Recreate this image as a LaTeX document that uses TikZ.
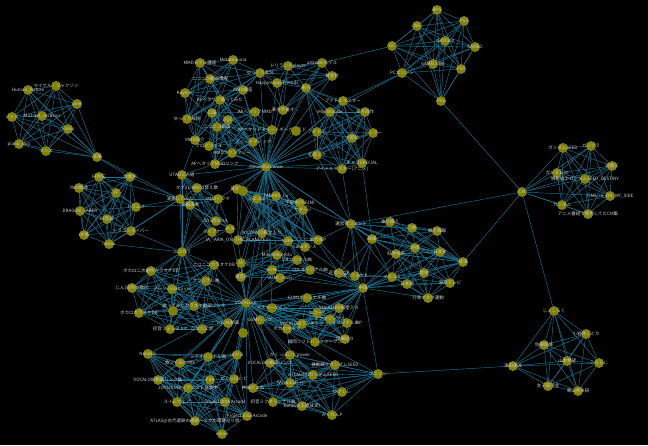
\documentclass[tikz,border=0pt]{standalone}
\usepackage{fontspec}
\newfontfamily\jpfont{Noto Sans CJK JP}
\usetikzlibrary{positioning}

\definecolor{dotcol}{RGB}{128,128,12}
\definecolor{linkcol}{RGB}{28,116,148}
\definecolor{txtcol}{RGB}{205,205,205}

\pgfdeclarelayer{bg}
\pgfdeclarelayer{links}
\pgfsetlayers{bg,links,main}

\tikzset{
  dot/.style={circle,fill=dotcol,minimum size=10pt,inner sep=0pt},
  txt/.style={text=txtcol,font=\jpfont\fontsize{4.5}{5}\selectfont,inner sep=0pt},
  link/.style={draw=linkcol,line width=0.45pt}
}

% every pair of a list
\newcommand{\linkall}[1]{%
  \foreach \a [count=\i] in {#1}{%
    \foreach \b [count=\j] in {#1}{%
      \ifnum\i<\j \draw[link] (\a) -- (\b);\fi}}}

\begin{document}
\begin{tikzpicture}[x=1pt,y=-1pt]

      \useasboundingbox (0,0) rectangle (648,445);
      \begin{pgfonlayer}{bg}
        \fill[black] (0,0) rectangle (648,445);
      \end{pgfonlayer}

      % Michael Jackson
      \node[dot,label={[txt]center:マイケル・ジャクソン}] (mj1) at (56,86) {};
      \node[dot,label={[txt]center:Human\_Nature}] (mj2) at (28,90) {};
      \node[dot,label={[txt]center:pine}] (mj3) at (77,104) {};
      \node[dot,label={[txt]center:ジャズ}] (mj4) at (12,117) {};
      \node[dot,label={[txt]center:Michael\_Jackson}] (mj5) at (42,116) {};
      \node[dot,label={[txt]center:Piano}] (mj6) at (68,129) {};
      \node[dot,label={[txt]center:piano\_duo}] (mj7) at (19,144) {};
      \node[dot,label={[txt]center:ダンス}] (mj8) at (46,151) {};
      \node[dot,label={[txt]center:洋楽}] (mj9) at (97,157) {};

      % Games
      \node[dot,label={[txt]center:RPG}] (gm1) at (437,10) {};
      \node[dot,label={[txt]center:Wii}] (gm2) at (417,26) {};
      \node[dot,label={[txt]center:PS3}] (gm3) at (464,21) {};
      \node[dot,label={[txt]center:XBOX360}] (gm4) at (445,41) {};
      \node[dot,label={[txt]center:GC}] (gm5) at (392,46) {};
      \node[dot,label={[txt]center:GAMEO}] (gm6) at (475,47) {};
      \node[dot,label={[txt]center:GAMECUBE}] (gm7) at (433,64) {};
      \node[dot,label={[txt]center:PSP}] (gm8) at (461,69) {};
      \node[dot,label={[txt]center:PCエンジン}] (gm9) at (402,73) {};
      \node[dot,label={[txt]center:PS2}] (gm10) at (441,101) {};

      % CM
      \node[dot,label={[txt]center:CM}] (cm1) at (522,192) {};
      \node[dot,label={[txt]center:ガンダムSEED}] (cm2) at (563,148) {};
      \node[dot,label={[txt]center:ガンプラ}] (cm3) at (591,146) {};
      \node[dot,label={[txt]center:遊戯王}] (cm4) at (612,166) {};
      \node[dot,label={[txt]center:ガンダム00}] (cm5) at (557,173) {};
      \node[dot,label={[txt]center:機動戦士ガンダムSEED\_DESTINY}] (cm6) at (585,179) {};
      \node[dot,label={[txt]center:TIME\_IS\_ON\_MY\_SIDE}] (cm7) at (610,196) {};
      \node[dot,label={[txt]center:ガンダム}] (cm8) at (562,205) {};
      \node[dot,label={[txt]center:アニメ番組で使用してたCM集}] (cm9) at (588,214) {};

      % Jessiraku
      \node[dot,label={[txt]center:じぇしらく}] (js1) at (554,311) {};
      \node[dot,label={[txt]center:小岩井ことり}] (js2) at (586,334) {};
      \node[dot,label={[txt]center:佐藤聡美}] (js3) at (544,345) {};
      \node[dot,label={[txt]center:山本希望}] (js4) at (567,361) {};
      \node[dot,label={[txt]center:こりらじ}] (js5) at (599,363) {};
      \node[dot,label={[txt]center:津田美波}] (js6) at (513,366) {};
      \node[dot,label={[txt]center:女子部活会}] (js7) at (548,386) {};
      \node[dot,label={[txt]center:東山奈央研}] (js8) at (578,391) {};

      % FF
      \node[dot,label={[txt]center:FF外伝}] (ff1) at (99,177) {};
      \node[dot,label={[txt]center:作業用}] (ff2) at (130,177) {};
      \node[dot,label={[txt]center:YMO関連}] (ff3) at (79,188) {};
      \node[dot,label={[txt]center:FF}] (ff4) at (116,193) {};
      \node[dot,label={[txt]center:ドラムス}] (ff5) at (136,207) {};
      \node[dot,label={[txt]center:DRAGON\_SABER}] (ff6) at (80,211) {};
      \node[dot,label={[txt]center:FF音楽}] (ff7) at (107,219) {};
      \node[dot,label={[txt]center:ドラゴンダイバー}] (ff8) at (131,231) {};
      \node[dot,label={[txt]center:OP集}] (ff9) at (84,235) {};
      \node[dot,label={[txt]center:nanao}] (ff10) at (109,244) {};

      % MMD
      \node[dot,label={[txt]center:MikuMikuDance}] (md0) at (266,167) {};
      \node[dot,label={[txt]center:MMDモデル講座}] (md1) at (200,63) {};
      \node[dot,label={[txt]center:Metasequoia}] (md2) at (233,60) {};
      \node[dot,label={[txt]center:ニコニコ動画講座}] (md3) at (210,79) {};
      \node[dot,label={[txt]center:ゆっくり実況}] (md4) at (260,73) {};
      \node[dot,label={[txt]center:HappyHappyFriends}] (md5) at (277,83) {};
      \node[dot,label={[txt]center:ドリランドplayer}] (md6) at (288,66) {};
      \node[dot,label={[txt]center:ustreamモデル}] (md7) at (322,63) {};
      \node[dot,label={[txt]center:黄金色}] (md8) at (332,76) {};
      \node[dot,label={[txt]center:MMD講座}] (md9) at (243,90) {};
      \node[dot,label={[txt]center:Kaymer}] (md10) at (185,93) {};
      \node[dot,label={[txt]center:東方}] (md11) at (306,88) {};
      \node[dot,label={[txt]center:APヘタリア踊ってみた}] (md12) at (220,100) {};
      \node[dot,label={[txt]center:APヘタリアMMD}] (md13) at (255,112) {};
      \node[dot,label={[txt]center:東方手書き}] (md14) at (283,110) {};
      \node[dot,label={[txt]center:アイドルマスター}] (md15) at (343,101) {};
      \node[dot,label={[txt]center:iM@Shooter}] (md16) at (330,112) {};
      \node[dot,label={[txt]center:東方自作}] (md17) at (365,112) {};
      \node[dot,label={[txt]center:ゆっくり解説}] (md18) at (187,119) {};
      \node[dot,label={[txt]center:口笛}] (md19) at (212,113) {};
      \node[dot,label={[txt]center:DQC}] (md20) at (228,120) {};
      \node[dot,label={[txt]center:ニコニコ動画}] (md21) at (217,127) {};
      \node[dot,label={[txt]center:APヘタリアスイートボーカロイド}] (md22) at (272,130) {};
      \node[dot] (md23) at (296,131) {};
      \node[dot,label={[txt]center:アイドル}] (md24) at (317,132) {};
      \node[dot,label={[txt]center:大阪勢}] (md25) at (352,138) {};
      \node[dot,label={[txt]center:ミックー}] (md26) at (373,133) {};
      \node[dot,label={[txt]center:MMD紹介}] (md27) at (195,140) {};
      \node[dot,label={[txt]center:クロイツェル}] (md28) at (209,146) {};
      \node[dot,label={[txt]center:スイートマジック}] (md29) at (253,142) {};
      \node[dot,label={[txt]center:MMDファンタジー}] (md30) at (232,153) {};
      \node[dot,label={[txt]center:初音ミク}] (md31) at (317,155) {};
      \node[dot,label={[txt]center:APヘタリアMMDリンク}] (md32) at (215,164) {};
      \node[dot,label={[txt]center:キャラSPECIAL}] (md34) at (362,163) {};
      \node[dot,label={[txt]center:アイドルマスター(アニメ)}] (md35) at (342,169) {};

      % Center
      \node[dot,label={[txt]center:UTAU三人組}] (ce1) at (182,175) {};
      \node[dot,label={[txt]center:演奏してみた}] (ce2) at (180,199) {};
      \node[dot,label={[txt]center:楽器演奏}] (ce3) at (190,205) {};
      \node[dot,label={[txt]center:タグ1レNNCO替え歌}] (ce4) at (197,188) {};
      \node[dot,label={[txt]center:MMDドラマ}] (ce5) at (218,199) {};
      \node[dot,label={[txt]center:再生数}] (ce6) at (237,189) {};
      \node[dot] (ce7) at (243,191) {};
      \node[dot,label={[txt]center:ぷよぷよ}] (ce8) at (257,199) {};
      \node[dot,label={[txt]center:TARAKO\_Lu}] (ce9) at (276,196) {};
      \node[dot,label={[txt]center:宇宙旅行GUMI}] (ce10) at (300,203) {};
      \node[dot,label={[txt]center:サターン}] (ce11) at (303,210) {};
      \node[dot,label={[txt]center:SOS団SOUL}] (ce12) at (216,221) {};
      \node[dot,label={[txt]center:ネタ}] (ce13) at (230,229) {};
      \node[dot,label={[txt]center:ダイアナ}] (ce14) at (212,232) {};
      \node[dot,label={[txt]center:NICONICO殿堂入り}] (ce15) at (262,233) {};
      \node[dot,label={[txt]center:IA\_-ARIA\_ON\_THE\_PLANETES-}] (ce16) at (238,240) {};
      \node[dot,label={[txt]center:LUKA}] (ce17) at (288,241) {};
      \node[dot,label={[txt]center:歌合成P}] (ce18) at (318,240) {};
      \node[dot,label={[txt]center:ニコカラ}] (ce19) at (182,252) {};
      \node[dot,label={[txt]center:LaLaダンス}] (ce20) at (305,247) {};
      \node[dot,label={[txt]center:MikuMikuHolo}] (ce21) at (277,255) {};

      % VOCALOID
      \node[dot,label={[txt]center:VOCALOID}] (vo0) at (246,303) {};
      \node[dot,label={[txt]center:ボカロ二次創作カラオケDB}] (vo1) at (151,271) {};
      \node[dot,label={[txt]center:ニコニコカラオケDB}] (vo2) at (214,265) {};
      \node[dot,label={[txt]center:IA}] (vo3) at (241,263) {};
      \node[dot,label={[txt]center:鏡音P}] (vo4) at (241,277) {};
      \node[dot,label={[txt]center:オリジナル曲}] (vo5) at (206,281) {};
      \node[dot,label={[txt]center:じん(自然の敵P)}] (vo6) at (132,288) {};
      \node[dot,label={[txt]center:アレンジpiano ver}] (vo7) at (172,289) {};
      \node[dot,label={[txt]center:歌ってみたカラオケ動画リンク}] (vo8) at (194,306) {};
      \node[dot] (vo9) at (173,311) {};
      \node[dot,label={[txt]center:ボカロカラオケDB}] (vo10) at (139,313) {};
      \node[dot,label={[txt]center:初音フォレストP}] (vo11) at (170,329) {};
      \node[dot,label={[txt]center:ひなた工房}] (vo12) at (202,329) {};
      \node[dot,label={[txt]center:VOCAL動画}] (vo13) at (228,323) {};
      \node[dot] (vo14) at (243,333) {};
      \node[dot,label={[txt]center:マスターゲイト}] (vo15) at (272,308) {};
      \node[dot,label={[txt]center:Vオリジナル曲}] (vo17) at (297,260) {};
      \node[dot,label={[txt]center:CULオリジナル曲}] (vo18) at (310,270) {};
      \node[dot,label={[txt]center:GUMI}] (vo19) at (272,270) {};
      \node[dot,label={[txt]center:GUMI\_cover}] (vo20) at (280,278) {};
      \node[dot,label={[txt]center:GUMIオリジナル曲}] (vo21) at (307,298) {};
      \node[dot,label={[txt]center:VOCALOID殿堂入り}] (vo22) at (339,308) {};
      \node[dot,label={[txt]center:エコーP}] (vo23) at (317,313) {};
      \node[dot,label={[txt]center:オリジナル曲P}] (vo24) at (347,323) {};
      \node[dot,label={[txt]center:ミクオリジナル}] (vo25) at (330,319) {};
      \node[dot,label={[txt]center:VOCALOIDランキング}] (vo26) at (302,324) {};
      \node[dot,label={[txt]center:GUMIリンク}] (vo27) at (260,320) {};
      \node[dot,label={[txt]center:ボカロキャラ}] (vo28) at (287,329) {};
      \node[dot,label={[txt]center:福岡ソフトバンクホークス}] (vo29) at (315,342) {};
      \node[dot,label={[txt]center:球場巡り}] (vo30) at (345,339) {};
      \node[dot,label={[txt]center:Nanashi}] (vo31) at (148,354) {};
      \node[dot,label={[txt]center:歌ってみたMIX}] (vo32) at (180,363) {};
      \node[dot,label={[txt]center:ミクオリジナル曲}] (vo33) at (208,357) {};
      \node[dot,label={[txt]center:PDA}] (vo34) at (210,380) {};
      \node[dot,label={[txt]center:ぼかろ}] (vo35) at (237,355) {};
      \node[dot,label={[txt]center:がくっぽいどpower}] (vo36) at (290,355) {};
      \node[dot,label={[txt]center:VOCALOID動画リンク}] (vo37) at (270,363) {};
      \node[dot,label={[txt]center:機動戦士ガンダムSEED}] (vo38) at (335,365) {};
      \node[dot,label={[txt]center:VOCALOID動画リンク集}] (vo39) at (158,380) {};
      \node[dot,label={[txt]center:がくっぽいど}] (vo40) at (234,379) {};
      \node[dot,label={[txt]center:{[Vocaloid++]}}] (vo41) at (290,383) {};
      \node[dot,label={[txt]center:VOCALOIDガンダムSEED}] (vo42) at (313,375) {};
      \node[dot,label={[txt]center:アニソン}] (vo43) at (378,374) {};
      \node[dot,label={[txt]center:神曲だよね}] (vo44) at (253,388) {};
      \node[dot,label={[txt]center:JOYSOUNDリクエスト投票中}] (vo45) at (188,388) {};
      \node[dot,label={[txt]center:ウクレレ}] (vo46) at (342,392) {};
      \node[dot,label={[txt]center:スイムウェア}] (vo47) at (177,402) {};
      \node[dot,label={[txt]center:Project DIVA Arcade}] (vo48) at (225,402) {};
      \node[dot,label={[txt]center:初音ミクオリジナル曲}] (vo49) at (273,402) {};
      \node[dot,label={[txt]center:Believe(玉置成実)}] (vo50) at (302,406) {};
      \node[dot,label={[txt]center:みくれんP}] (vo51) at (332,415) {};
      \node[dot,label={[txt]center:Project Diva Arcade}] (vo52) at (247,416) {};
      \node[dot,label={[txt]center:ATLAS@古代遺跡の遺跡〜ミクの遺跡巡り旅}] (vo53) at (195,421) {};
      \node[dot,label={[txt]center:moon}] (vo54) at (222,434) {};

      % Politics
      \node[dot,label={[txt]center:運営者コメント}] (ps1) at (351,224) {};
      \node[dot,label={[txt]center:乗り換え}] (ps2) at (390,222) {};
      \node[dot,label={[txt]center:刀剣}] (ps3) at (412,228) {};
      \node[dot,label={[txt]center:戦士降臨}] (ps4) at (437,231) {};
      \node[dot,label={[txt]center:映画}] (ps5) at (372,239) {};
      \node[dot,label={[txt]center:将棋}] (ps6) at (415,248) {};
      \node[dot,label={[txt]center:科学技術}] (ps7) at (396,254) {};
      \node[dot,label={[txt]center:日本史}] (ps8) at (440,252) {};
      \node[dot,label={[txt]center:経済}] (ps9) at (463,262) {};
      \node[dot,label={[txt]center:歴史}] (ps10) at (424,273) {};
      \node[dot,label={[txt]center:マスコミ}] (ps11) at (392,277) {};
      \node[dot,label={[txt]center:東京テレビ}] (ps12) at (450,283) {};
      \node[dot,label={[txt]center:日本語}] (ps13) at (407,284) {};
      \node[dot,label={[txt]center:中国}] (ps14) at (363,288) {};
      \node[dot,label={[txt]center:行政オタク運動}] (ps15) at (428,298) {};
      \node[dot,label={[txt]center:歌ってみたP}] (ps16) at (355,276) {};
      \node[dot,label={[txt]center:巡音ルカP}] (ps17) at (339,273) {};

      %%%%%%%%%%%%%%%%%%%%%%%%%%
      % Links
      \begin{pgfonlayer}{links}
        \linkall{mj1,mj2,mj3,mj4,mj5,mj6,mj7,mj8,mj9}
        \linkall{gm1,gm2,gm3,gm4,gm5,gm6,gm7,gm8,gm9,gm10}
        \linkall{cm1,cm2,cm3,cm4,cm5,cm6,cm7,cm8,cm9}
        \linkall{js1,js2,js3,js4,js5,js6,js7,js8}
        \linkall{ff1,ff2,ff3,ff4,ff5,ff6,ff7,ff8,ff9,ff10}

        \linkall{md1,md2,md3,md4,md9,md10,md18,md12,md27}
        \linkall{md12,md13,md19,md20,md21,md22,md28,md29,md30,md32}
        \linkall{md4,md5,md6,md7,md8,md11,md14}
        \linkall{md11,md15,md16,md17,md24,md25,md26,md31,md34,md35}

        \linkall{ce1,ce2,ce3,ce4,ce5,ce12,ce13,ce14,ce19}
        \linkall{ce6,ce7,ce8,ce9,ce10,ce11,ce15,ce16,ce17,ce18,ce20}

        \linkall{vo1,vo2,vo5,vo6,vo7,vo8,vo9,vo10,vo11,vo12,vo13,ce19}
        \linkall{vo3,vo4,vo17,vo18,vo19,vo20,ce21,ce17}
        \linkall{vo15,vo21,vo22,vo23,vo24,vo25,vo26,vo27,vo28,vo29,vo30,ps14}
        \linkall{vo31,vo32,vo33,vo34,vo35,vo39,vo40,vo45,vo47,vo48,vo52,vo53,vo54}
        \linkall{vo36,vo37,vo38,vo41,vo42,vo43,vo44,vo46,vo49,vo50,vo51}

        \linkall{ps1,ps2,ps3,ps4,ps5,ps6,ps7,ps8,ps9}
        \linkall{ps6,ps7,ps8,ps9,ps10,ps11,ps12,ps13,ps15,ps14}
        \linkall{ps14,ps16,ps17,ps5,ps1,ps11}

        % hubs
        \foreach \b in {md1,md2,md3,md4,md5,md6,md7,md8,md9,md10,md11,md12,md13,md14,md15,md16,md17,md18,md19,md20,md21,md22,md23,md24,md25,md26,md27,md28,md29,md30,md31,md32,md34,md35,
                        ce1,ce4,ce5,ce6,ce7,ce8,ce9,ce10,ce11,ce15,ce16,ce17,ce18,ce20,ce21,vo0,vo3,vo4,vo19,vo15,vo27,vo17,vo18,ps1,ps5,ps17}
          \draw[link] (md0) -- (\b);
        \foreach \b in {vo1,vo2,vo3,vo4,vo5,vo6,vo7,vo8,vo9,vo10,vo11,vo12,vo13,vo14,vo15,vo17,vo18,vo19,vo20,vo21,vo22,vo23,vo24,vo25,vo26,vo27,vo28,vo29,vo30,
                        vo31,vo32,vo33,vo34,vo35,vo36,vo37,vo38,vo39,vo40,vo41,vo42,vo43,vo44,vo45,vo47,vo48,vo49,vo50,vo52,ce19,ce16,ce15,ce13,ce21,ps14}
          \draw[link] (vo0) -- (\b);
        \foreach \b in {vo17,vo18,vo19,vo20,vo21,vo43,vo22,ce20,ce18}
          \draw[link] (ps14) -- (\b);

        % between groups
        \foreach \a/\b in {mj9/ce2,mj9/ff2,ff1/ce2,ff2/ce2,ff5/ce2,ff8/ce2,ff10/ce2,ff8/ce19,ff10/ce19,ff5/ce3,
                           gm5/md7,gm9/md15,gm9/md16,gm10/cm1,cm1/ps1,cm1/js1,cm1/ps9,js6/vo43,
                           md32/ce1,md27/ce1,md31/ps1,md35/ps1,md34/ps5,ce18/ps1,ce10/ps1,vo14/vo40,vo13/vo33,vo27/vo37,vo36/vo28}
          \draw[link] (\a) -- (\b);
      \end{pgfonlayer}

\end{tikzpicture}
\end{document}
